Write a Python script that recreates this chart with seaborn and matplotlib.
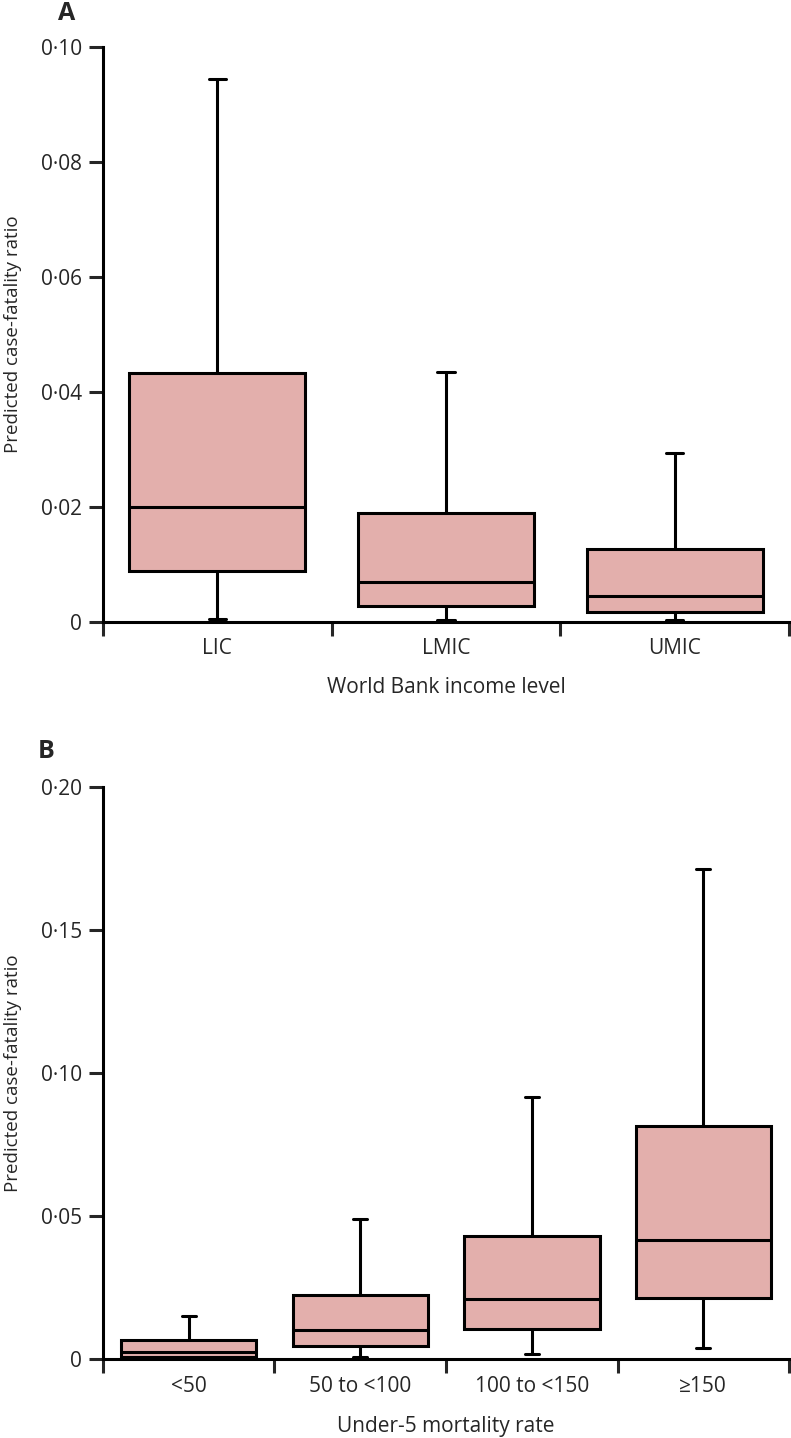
import numpy as np
import pandas as pd
import matplotlib
matplotlib.use("Agg")
import matplotlib.pyplot as plt
import seaborn as sns
from matplotlib.ticker import FuncFormatter, FixedLocator

# ---- data: per group [lower whisker, Q1, median, Q3, upper whisker] ----
income_levels = ["LIC", "LMIC", "UMIC"]
lic = [0.0004, 0.0088, 0.0199, 0.0432, 0.0945]
lmic = [0.0003, 0.0027, 0.0069, 0.0189, 0.0434]
umic = [0.0003, 0.0016, 0.0044, 0.0127, 0.0293]

u5_groups = ["<50", "50 to <100", "100 to <150", "\u2265150"]
u5_lt50 = [0.0003, 0.0008, 0.0023, 0.0066, 0.0150]
u5_50_100 = [0.0006, 0.0047, 0.0101, 0.0223, 0.0490]
u5_100_150 = [0.0019, 0.0104, 0.0211, 0.0430, 0.0915]
u5_ge150 = [0.0037, 0.0212, 0.0416, 0.0814, 0.1713]

yticks_a = [0, 0.02, 0.04, 0.06, 0.08, 0.10]
yticks_b = [0, 0.05, 0.10, 0.15, 0.20]

df_a = pd.DataFrame({
    "group": np.repeat(income_levels, 5),
    "cfr": lic + lmic + umic,
})
df_b = pd.DataFrame({
    "group": np.repeat(u5_groups, 5),
    "cfr": u5_lt50 + u5_50_100 + u5_100_150 + u5_ge150,
})

sns.set_theme(style="ticks")
plt.rcParams["font.family"] = ["Open Sans", "DejaVu Sans"]

FILL = "#E3AFAC"
LW = 2.2

fig = plt.figure(figsize=(7.91, 14.38), dpi=100)
ax_a = fig.add_axes([0.1302, 0.5677, 0.9975 - 0.1302, 0.9673 - 0.5677])
ax_b = fig.add_axes([0.1302, 0.0549, 0.9975 - 0.1302, 0.4525 - 0.0549])


def fmt(v, pos):
    if abs(v) < 1e-12:
        return "0"
    return f"{v:.2f}".replace(".", "\u00b7")


def draw(ax, df, order, yticks, width, capw, xlabel, xfs, xlab_y, tickpad):
    sns.boxplot(data=df, x="group", y="cfr", order=order, whis=(0, 100),
                width=width, color=FILL, linecolor="black", linewidth=LW,
                fliersize=0, ax=ax, saturation=1)
    # narrow whisker caps
    for line in ax.lines:
        xd = np.asarray(line.get_xdata(), dtype=float)
        yd = np.asarray(line.get_ydata(), dtype=float)
        if len(xd) == 2 and yd[0] == yd[1]:
            span = abs(xd[1] - xd[0])
            if span < 0.9 * width:
                c = xd.mean()
                line.set_xdata([c - capw / 2, c + capw / 2])
        line.set_clip_on(False)
    n = len(order)
    ax.set_xlim(-0.5, n - 0.5)
    ax.set_ylim(0, yticks[-1])
    ax.set_xticks(range(n))
    ax.set_xticklabels(order, fontsize=xfs)
    ax.tick_params(axis="x", which="major", length=0, pad=tickpad)
    ax.xaxis.set_minor_locator(FixedLocator([i - 0.5 for i in range(n + 1)]))
    ax.tick_params(axis="x", which="minor", length=10, width=LW, direction="out")
    ax.set_yticks(yticks)
    ax.yaxis.set_major_formatter(FuncFormatter(fmt))
    ax.tick_params(axis="y", length=10, width=LW, labelsize=15, pad=5)
    for s in ["top", "right"]:
        ax.spines[s].set_visible(False)
    for s in ["left", "bottom"]:
        ax.spines[s].set_linewidth(LW)
        ax.spines[s].set_color("black")
    ax.set_xlabel(xlabel, fontsize=xfs)
    ax.xaxis.set_label_coords(0.5, xlab_y)
    ax.set_ylabel("Predicted case-fatality ratio", fontsize=13.5)
    ax.yaxis.set_label_coords(-0.118, 0.5)
    ax.set_facecolor("white")


draw(ax_a, df_a, income_levels, yticks_a, 0.77, 0.075,
     "World Bank income level", 15, -0.0965, 12)
draw(ax_b, df_b, u5_groups, yticks_b, 0.79, 0.08,
     "Under-5 mortality rate", 15, -0.099, 12)

fig.text(67 / 791, 1 - 13 / 1438, "A", fontsize=18, fontweight="bold", ha="center", va="center")
fig.text(46 / 791, 1 - 751 / 1438, "B", fontsize=18, fontweight="bold", ha="center", va="center")

fig.savefig("out.png", dpi=100, facecolor="white")
